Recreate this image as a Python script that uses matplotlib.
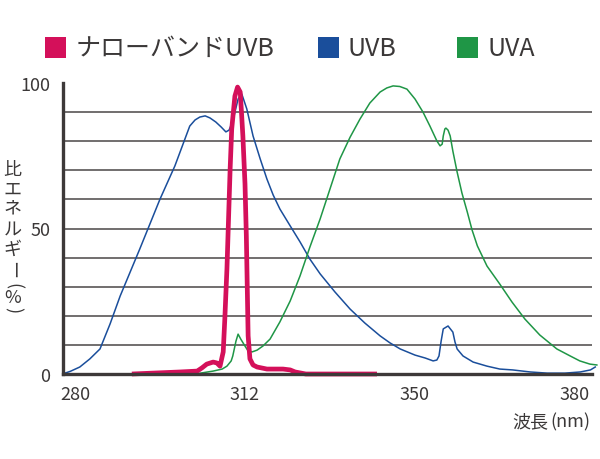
import numpy as np
import matplotlib
matplotlib.use("Agg")
import matplotlib.pyplot as plt
from matplotlib.patches import Rectangle

plt.rcParams['font.family'] = ['Noto Sans CJK JP', 'DejaVu Sans']

# ---- data ----
series_names = ["ナローバンドUVB", "UVB", "UVA"]
series_colors = ["#d4105a", "#1a4e9b", "#1f9646"]

uvb_nm = [278.1, 279.1, 280.9, 282.8, 284.7, 286.6, 288.5, 292.2, 296.0, 298.8,
          300.7, 301.6, 302.6, 303.5, 304.5, 305.4, 306.5, 307.5, 308.4, 309.0,
          309.7, 310.7, 311.4, 312.4, 313.8, 315.4, 316.9, 318.3, 319.8, 322.1,
          324.3, 326.5, 328.8, 332.1, 335.5, 338.8, 342.2, 344.4, 346.7, 350.0,
          351.9, 353.4, 354.1, 354.5, 354.9, 355.3, 356.2, 357.1, 357.5, 357.9,
          359.0, 360.9, 363.5, 365.9, 368.3, 371.6, 374.8, 378.1, 381.0, 382.9,
          383.8]
uvb_val = [0.3, 0.9, 2.4, 5.2, 8.6, 17.2, 26.8, 43.0, 60.1, 71.5,
           80.8, 85.2, 87.3, 88.3, 88.7, 88.0, 86.6, 84.9, 83.2, 83.8,
           86.9, 94.5, 96.2, 91.1, 81.8, 73.9, 67.0, 61.5, 56.7, 50.9,
           45.4, 39.5, 34.4, 28.2, 22.3, 17.5, 13.1, 10.7, 8.6, 6.5,
           5.5, 4.5, 4.8, 6.2, 11.3, 15.5, 16.5, 14.4, 11.0, 8.6,
           6.2, 4.1, 2.7, 1.7, 1.4, 0.7, 0.3, 0.3, 0.7, 1.4,
           2.4]

uva_nm = [302.6, 306.0, 307.7, 308.6, 309.4, 309.7, 310.3, 310.7, 311.2, 312.0,
          312.7, 313.6, 314.7, 316.0, 317.6, 319.8, 322.1, 324.3, 326.5, 328.8,
          331.0, 333.2, 335.5, 337.7, 339.9, 342.2, 343.7, 345.1, 346.6, 348.2,
          350.0, 351.5, 352.8, 354.1, 354.7, 355.1, 355.3, 355.6, 355.8, 356.2,
          356.6, 357.1, 357.9, 358.8, 359.8, 360.7, 361.7, 363.5, 365.9, 368.2,
          370.6, 373.4, 376.6, 379.1, 380.9, 382.8, 384.1]
uva_val = [0.0, 1.0, 1.7, 2.7, 4.5, 6.2, 11.3, 13.7, 12.0, 9.6,
           7.9, 7.6, 8.2, 9.6, 12.0, 17.9, 25.1, 33.7, 43.6, 53.3,
           63.6, 73.9, 81.4, 87.6, 93.1, 96.9, 98.3, 99.0, 98.8, 97.9,
           94.5, 90.0, 85.2, 80.1, 78.4, 79.0, 81.8, 84.2, 84.5, 83.8,
           81.8, 76.6, 69.4, 62.2, 55.7, 49.5, 44.0, 37.1, 30.9, 24.7,
           18.9, 13.4, 8.6, 6.2, 4.5, 3.4, 3.1]

nb_nm = [290.7, 299.8, 303.0, 303.9, 304.8, 306.0, 306.7, 307.3, 307.9, 308.2,
         308.6, 309.2, 309.5, 310.1, 310.6, 311.1, 311.3, 311.6, 312.0, 312.3,
         312.7, 313.1, 313.8, 314.7, 316.9, 320.5, 322.1, 323.2, 325.6, 341.5]
nb_val = [0.0, 0.7, 1.0, 2.1, 3.4, 4.1, 3.8, 2.7, 7.6, 18.9,
          36.1, 70.4, 84.2, 95.5, 98.6, 96.9, 91.1, 81.8, 65.3, 47.4,
          13.1, 5.2, 3.1, 2.4, 1.7, 1.7, 1.4, 0.7, 0.0, 0.0]

x_ticks = [280, 312, 350, 380]
y_ticks = [0, 50, 100]
y_grid = [10, 20, 30, 40, 50, 60, 70, 80, 90]
y_label_chars = ["比", "エ", "ネ", "ル", "ギ", "ー", "(", "%", ")"]
x_label_parts = ["波長", "(nm)"]

# ---- non-uniform wavelength axis (ticks evenly spaced in the reference) ----
warp_nm = [260, 280, 312, 350, 380, 400]
warp_pos = [-31.25, 75, 245, 415, 575, 681.67]

def fwd(x):
    return np.interp(x, warp_nm, warp_pos)

def inv(p):
    return np.interp(p, warp_pos, warp_nm)

text_color = "#3b3838"
axis_color = "#3d3939"

fig = plt.figure(figsize=(6.0, 4.6), dpi=100)
ax = fig.add_axes([63 / 600, 85 / 460, (592 - 63) / 600, (375 - 84) / 460])
ax.set_xscale('function', functions=(fwd, inv))
ax.set_xlim(277.74, 383.19)
ax.set_ylim(0, 100)

for g in y_grid:
    ax.axhline(g, color="#4a4646", lw=1.1, zorder=1)

ax.plot(uvb_nm, uvb_val, color=series_colors[1], lw=1.1, zorder=3, clip_on=False,
        solid_joinstyle='round')
ax.plot(uva_nm, uva_val, color=series_colors[2], lw=1.1, zorder=3, clip_on=False,
        solid_joinstyle='round')
ax.plot(nb_nm, nb_val, color=series_colors[0], lw=3.4, zorder=4, clip_on=False,
        solid_joinstyle='round', solid_capstyle='butt')

for s in ["top", "right"]:
    ax.spines[s].set_visible(False)
for s in ["left", "bottom"]:
    ax.spines[s].set_linewidth(2.4)
    ax.spines[s].set_color(axis_color)
    ax.spines[s].set_zorder(5)

ax.set_xticks(x_ticks)
ax.set_xticklabels([str(t) for t in x_ticks])
ax.set_xticks([], minor=True)
ax.set_yticks(y_ticks)
ax.set_yticklabels([str(t) for t in y_ticks])
ax.tick_params(axis='both', length=0, labelsize=13, colors=text_color)
ax.tick_params(axis='x', pad=8)
ax.tick_params(axis='y', pad=9)

# x label at bottom right: 波長(nm)
fig.text(548 / 600, 1 - 422 / 460, x_label_parts[0], ha='right', va='center',
         fontsize=13, color=text_color)
fig.text(550 / 600, 1 - 422 / 460, x_label_parts[1], ha='left', va='center',
         fontsize=13, color=text_color)

# vertical y label, characters stacked upright
ypos = [170, 190, 209, 230, 250, 270, 286, 298, 310]
for ch, yp in zip(y_label_chars, ypos):
    rot = -90 if ch in ("ー", "(", ")") else 0
    fig.text(12.5 / 600, 1 - yp / 460, ch, ha='center', va='center',
             fontsize=13, color=text_color, rotation=rot)

# legend with square swatches
leg_sq_x = [45, 318, 457]
leg_txt_x = [76, 348, 487]
for name, col, sx, tx in zip(series_names, series_colors, leg_sq_x, leg_txt_x):
    fig.patches.append(Rectangle((sx / 600, 1 - 59 / 460), 21 / 600, 21 / 460,
                                 transform=fig.transFigure, color=col, lw=0))
    fig.text(tx / 600, 1 - 48.5 / 460, name, ha='left', va='center',
             fontsize=18, color=text_color)

fig.savefig("out.png", dpi=100)
